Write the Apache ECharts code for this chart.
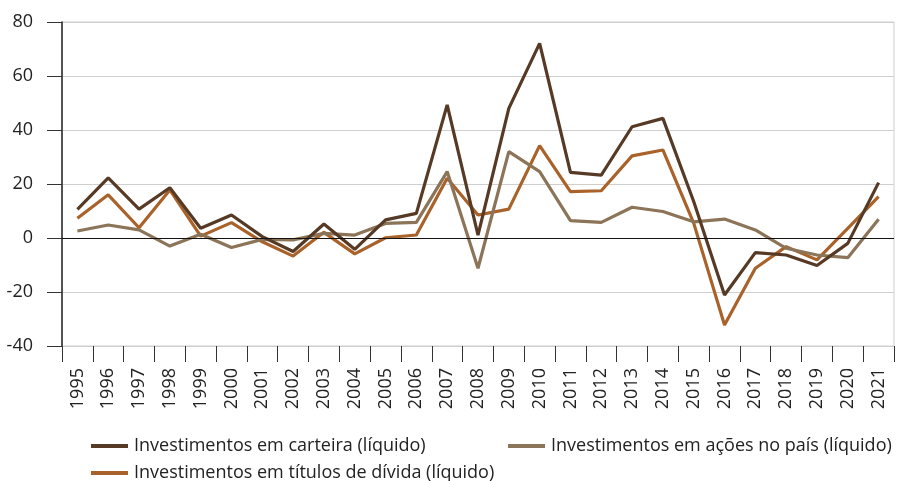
<!DOCTYPE html>
<html>
<head>
<meta charset="UTF-8">
<title>Investimentos</title>
<script src="https://cdn.jsdelivr.net/npm/echarts@6/dist/echarts.min.js"></script>
<style>
  html, body { margin: 0; padding: 0; background: #fff; }
  #chart { width: 899px; height: 481px; }
</style>
</head>
<body>
<div id="chart"></div>
<script>
// dados
var anos = ['1995','1996','1997','1998','1999','2000','2001','2002','2003','2004','2005','2006','2007','2008',
            '2009','2010','2011','2012','2013','2014','2015','2016','2017','2018','2019','2020','2021'];
var carteira = [10.6, 22.3, 10.7, 18.6, 3.6, 8.5, 0.5, -5.0, 5.2, -4.2, 6.7, 9.1, 49.3, 1.1,
                48.0, 72.1, 24.3, 23.3, 41.2, 44.3, 13.5, -21.1, -5.4, -6.3, -10.2, -2.0, 20.5];
var acoes = [2.6, 4.8, 3.0, -3.0, 1.4, -3.5, -0.5, -0.7, 1.7, 1.1, 5.4, 5.8, 24.6, -11.2,
             32.0, 24.6, 6.4, 5.8, 11.4, 9.8, 6.0, 7.0, 3.0, -3.8, -6.3, -7.3, 6.9];
var titulos = [7.3, 16.0, 3.8, 17.8, 0.7, 5.7, -1.4, -6.7, 2.1, -5.9, 0.1, 1.1, 22.1, 8.5,
               10.7, 34.2, 17.2, 17.5, 30.4, 32.6, 5.5, -32.2, -11.2, -3.2, -8.1, 3.6, 15.3];
var nomes = ['Investimentos em carteira (líquido)', 'Investimentos em ações no país (líquido)',
             'Investimentos em títulos de dívida (líquido)'];
var cores = ['#563a26', '#8c7458', '#a9632a'];

var fonte = "'Open Sans', 'Noto Sans', sans-serif";

var myChart = echarts.init(document.getElementById('chart'));

function serie(i, data) {
    return {
        name: nomes[i],
        type: 'line',
        data: data,
        symbol: 'none',
        lineStyle: { width: 3.2, color: cores[i] },
        itemStyle: { color: cores[i] },
        z: 3 - i
    };
}

var legendaBase = {
    icon: 'rect',
    itemWidth: 37,
    itemHeight: 4,
    itemGap: 6,
    textStyle: { fontFamily: fonte, fontSize: 18, color: '#222', padding: [0, 0, 0, 1] }
};

var option = {
    animation: false,
    backgroundColor: '#fff',
    textStyle: { fontFamily: fonte },
    grid: {
        left: 62, right: 5, top: 22, bottom: 135,
        show: true, borderColor: '#cfcfcf', borderWidth: 1
    },
    legend: [
        Object.assign({ data: [nomes[0]], left: 86, top: 432 }, legendaBase),
        Object.assign({ data: [nomes[1]], left: 503, top: 432 }, legendaBase),
        Object.assign({ data: [nomes[2]], left: 86, top: 459 }, legendaBase)
    ],
    xAxis: {
        type: 'category',
        data: anos,
        boundaryGap: true,
        axisLine: { onZero: false, lineStyle: { color: '#cfcfcf', width: 1 } },
        axisTick: { show: true, inside: false, length: 16, interval: 0,
                    lineStyle: { color: '#333' } },
        axisLabel: { interval: 0, rotate: 90, margin: 22, fontSize: 18, color: '#222', fontFamily: fonte },
        splitLine: { show: false }
    },
    yAxis: {
        type: 'value',
        min: -40, max: 80, interval: 20,
        axisLine: { show: true, lineStyle: { color: '#222', width: 1.5 } },
        axisTick: { show: true, length: 15, lineStyle: { color: '#333' } },
        axisLabel: { fontSize: 18, color: '#222', margin: 29, fontFamily: fonte },
        splitLine: { show: true, lineStyle: { color: '#cfcfcf', width: 1 } }
    },
    series: [
        serie(0, carteira),
        serie(1, acoes),
        serie(2, titulos)
    ]
};
// linha do zero
option.series[0].markLine = {
    silent: true,
    symbol: 'none',
    label: { show: false },
    lineStyle: { color: '#111', width: 1.2, type: 'solid' },
    data: [{ yAxis: 0 }]
};

myChart.setOption(option);
</script>
</body>
</html>
